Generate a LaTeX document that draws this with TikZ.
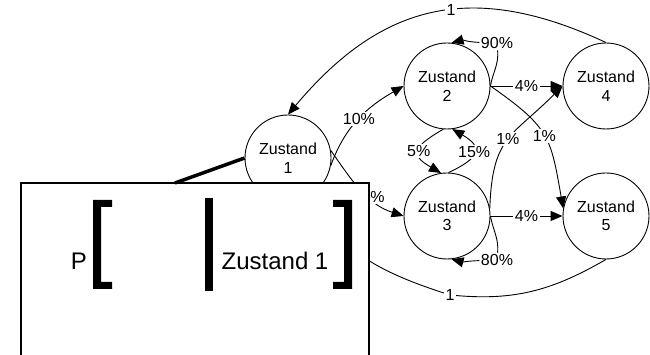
\documentclass[tikz,border=0pt]{standalone}
\usepackage{fontspec}
\setmainfont{Liberation Sans}
\usetikzlibrary{arrows.meta}
\begin{document}
\begin{tikzpicture}[x=1pt,y=1pt,
  state/.style={circle, draw, line width=0.9pt, minimum size=86pt, inner sep=0pt, align=center, font=\fontsize{16}{18.5}\selectfont},
  lbl/.style={fill=white, inner sep=1.5pt, font=\fontsize{16}{18}\selectfont},
  edge/.style={line width=0.9pt, -{Triangle[length=12pt,width=10pt]}},
  bigtext/.style={font=\fontsize{24}{28}\selectfont, anchor=base, inner sep=0pt}]
\useasboundingbox (0,0) rectangle (650,355);
\node[state] (z1) at (288,197) {Zustand\\1};
\node[state] (z2) at (447,269) {Zustand\\2};
\node[state] (z3) at (447,139) {Zustand\\3};
\node[state] (z4) at (606,269) {Zustand\\4};
\node[state] (z5) at (606,139) {Zustand\\5};
% top return 4 -> 1
\draw[edge] (z4.north) to[out=155,in=50,looseness=1.15] node[lbl,pos=0.44] (l1a) {1} (z1.north);
% 1 -> 2, 1 -> 3
\draw[edge] (z1.-10) to[out=70,in=-150] node[lbl,pos=0.5] (l12) {10\%} (z2.west);
\draw[edge] (z1.10) to[out=-55,in=162] node[lbl,pos=0.6] (l13) {10\%} (z3.west);
% self loops
\node[lbl] (l90) at (497,312) {90\%};
\draw[edge] (z2.east) to[out=80,in=-85] (l90) to[out=178,in=15] (z2.84);
\node[lbl] (l80) at (497,95) {80\%};
\draw[edge] (z3.east) to[out=-80,in=85] (l80) to[out=182,in=-15] (z3.-84);
% 4% edges
\draw[edge] (z2.east) -- node[lbl] (l24) {4\%} (z4.west);
\draw[edge] (z3.east) -- node[lbl] (l35) {4\%} (z5.west);
% 1% crossings
\draw[edge] (z2.east) to[out=-35,in=100,looseness=1.3] node[lbl,pos=0.5] (l25) {1\%} (z5.170);
\draw[edge] (z3.10) to[out=88,in=-135,looseness=1.3] node[lbl,pos=0.5] (l34) {1\%} (z4.west);
% 2 <-> 3
\draw[edge] (z2.-95) to[out=-150,in=150,looseness=2.1] node[lbl] (l23) {5\%} (z3.98);
\draw[edge] (z3.88) to[out=25,in=-30,looseness=2.1] node[lbl] (l32) {15\%} (z2.-83);
% bottom return 5 -> 1
\node[lbl] (l1b) at (450,60) {1};
\draw[edge] (z5.south) to[out=-150,in=-5] (l1b) to[out=162,in=-60] (z1.-60);
% callout box
\draw[line width=2pt, fill=white] (21,172) rectangle (369,-10);
\coordinate (bt) at (175,172);
\draw[line width=3.5pt] (bt) -- (z1.west);
\node[bigtext] (p) at (79,85) {P};
\node[bigtext] (zt) at (275,85) {Zustand 1};
\fill (93,155) -- (112,155) -- (112,148) -- (101,148) -- (101,73) -- (112,73) -- (112,66) -- (93,66) -- cycle;
\fill (352,155) -- (333,155) -- (333,148) -- (344,148) -- (344,73) -- (333,73) -- (333,66) -- (352,66) -- cycle;
\fill (205,157) rectangle (213,64);
\end{tikzpicture}
\end{document}
